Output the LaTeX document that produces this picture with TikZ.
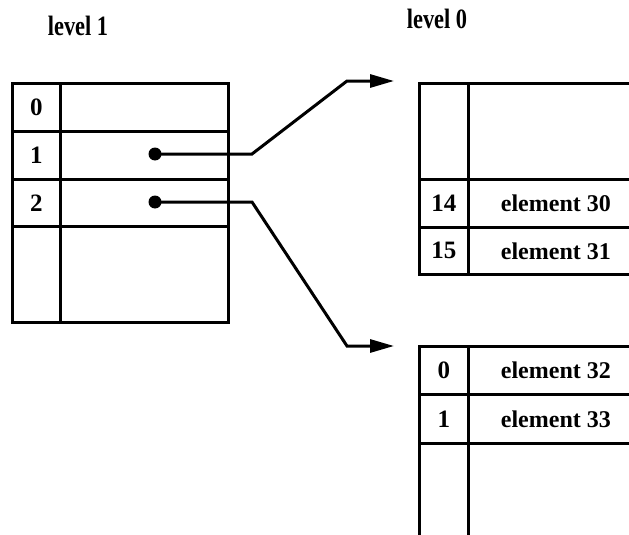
\documentclass[tikz,border=0pt]{standalone}
\usepackage{fontspec}
\setmainfont{Liberation Serif}
\newfontfamily\narrowserif[FakeStretch=0.8]{Liberation Serif}
\usetikzlibrary{arrows.meta}
\begin{document}
\begin{tikzpicture}[x=1pt,y=-1pt,
  cell/.style={draw,line width=2.7pt,anchor=north west,inner sep=0pt,
    font=\bfseries\fontsize{25}{25}\selectfont},
  valcell/.style={cell,font=\bfseries\fontsize{24}{24}\selectfont},
  levellabel/.style={font=\narrowserif\bfseries\fontsize{28}{28}\selectfont},
  conn/.style={line width=3pt,line join=miter},
  tip/.style={-{Triangle[length=24pt,width=13pt]}},
  dot/.style={circle,fill,inner sep=0pt,minimum size=13pt}]
\useasboundingbox (0,0) rectangle (629,535);
\clip (0,0) rectangle (629,535);

% level labels
\node[levellabel] (lab1) at (78,26) {level 1};
\node[levellabel] (lab0) at (437,19) {level 0};

% level 1 table
\node[cell,minimum width=48pt,minimum height=48pt] (a0) at (11,82) {0};
\node[cell,minimum width=168pt,minimum height=48pt] (b0) at (59,82) {};
\node[cell,minimum width=48pt,minimum height=48pt] (a1) at (11,130) {1};
\node[cell,minimum width=168pt,minimum height=48pt] (b1) at (59,130) {};
\node[cell,minimum width=48pt,minimum height=47pt] (a2) at (11,178) {2};
\node[cell,minimum width=168pt,minimum height=47pt] (b2) at (59,178) {};
\node[cell,minimum width=48pt,minimum height=96pt] (a3) at (11,225) {};
\node[cell,minimum width=168pt,minimum height=96pt] (b3) at (59,225) {};

% level 0, upper block
\node[cell,minimum width=49pt,minimum height=96pt] (c0) at (418,82) {};
\node[cell,minimum width=175pt,minimum height=96pt] (d0) at (467,82) {};
\node[cell,minimum width=49pt,minimum height=48pt] (c1) at (418,178) {14};
\node[valcell,minimum width=175pt,minimum height=48pt] (d1) at (467,178) {element 30};
\node[cell,minimum width=49pt,minimum height=47pt] (c2) at (418,226) {15};
\node[valcell,minimum width=175pt,minimum height=47pt] (d2) at (467,226) {element 31};

% level 0, lower block
\node[cell,minimum width=49pt,minimum height=48pt] (e0) at (418,345) {0};
\node[valcell,minimum width=175pt,minimum height=48pt] (f0) at (467,345) {element 32};
\node[cell,minimum width=49pt,minimum height=49pt] (e1) at (418,393) {1};
\node[valcell,minimum width=175pt,minimum height=49pt] (f1) at (467,393) {element 33};
\node[cell,minimum width=49pt,minimum height=120pt] (e2) at (418,442) {};
\node[cell,minimum width=175pt,minimum height=120pt] (f2) at (467,442) {};

% pointers
\node[dot] (p1) at (155,154) {};
\node[dot] (p2) at (155,202) {};
\coordinate (k1) at (252,154);
\coordinate (m1) at (347,81);
\coordinate (t1) at (394,81);
\coordinate (k2) at (252,202);
\coordinate (m2) at (347,346);
\coordinate (t2) at (394,346);
\draw[conn,tip] (p1.center) -- (k1) -- (m1) -- (t1);
\draw[conn,tip] (p2.center) -- (k2) -- (m2) -- (t2);
\end{tikzpicture}
\end{document}
